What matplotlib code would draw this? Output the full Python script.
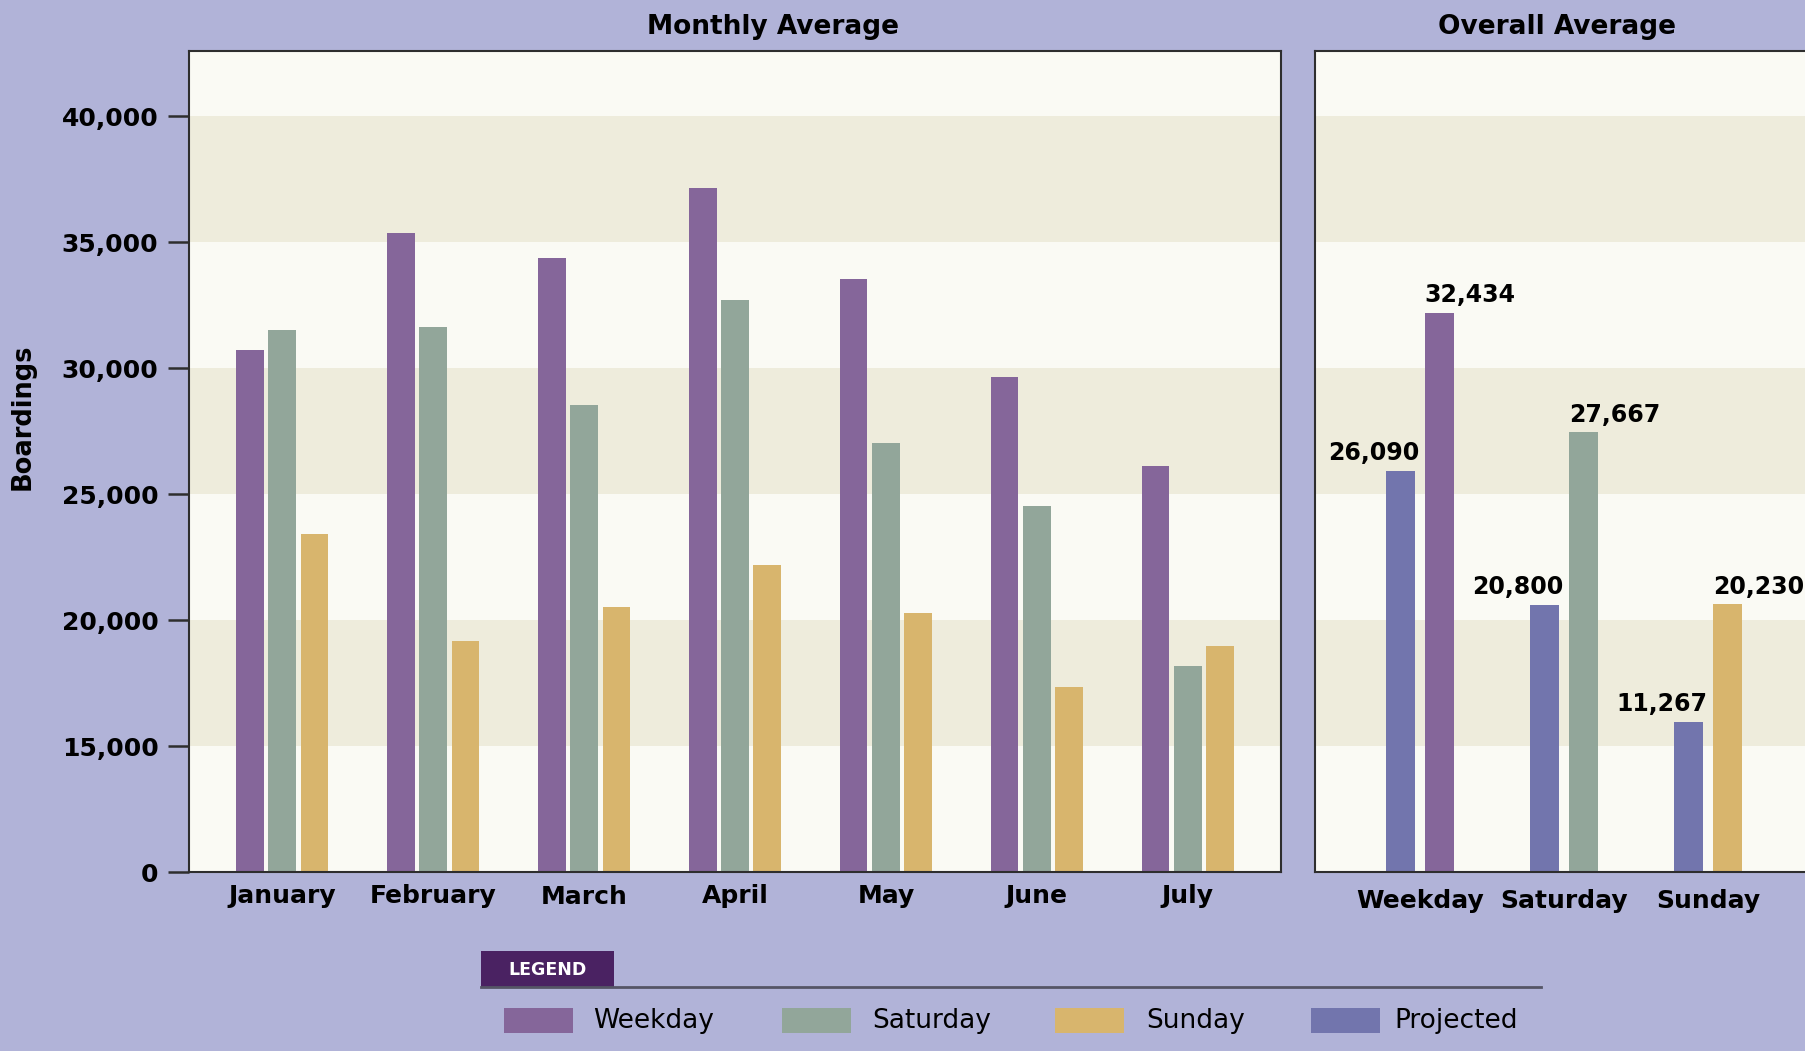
import matplotlib.pyplot as plt
from matplotlib.patches import Rectangle
from matplotlib.lines import Line2D
import numpy as np

# monthly averages
months = ["January", "February", "March", "April", "May", "June", "July"]
weekday = [30700, 35370, 34350, 37130, 33520, 29650, 26110]
saturday = [31510, 31640, 28530, 32700, 27010, 24520, 18190]
sunday = [23400, 19180, 20530, 22180, 20270, 17350, 18970]

# overall averages
overall_cats = ["Weekday", "Saturday", "Sunday"]
projected = [25920, 20600, 15970]
actual = [32190, 27450, 20620]
projected_labels = ["26,090", "20,800", "11,267"]
actual_labels = ["32,434", "27,667", "20,230"]

# the axis is cut: the bottom tick is labelled 0
ytick_values = [10000, 15000, 20000, 25000, 30000, 35000, 40000]
ytick_labels = ["0", "15,000", "20,000", "25,000", "30,000", "35,000", "40,000"]
bands = [(15000, 20000), (25000, 30000), (35000, 40000)]

legend_names = ["Weekday", "Saturday", "Sunday", "Projected"]

c_week = "#85669a"
c_sat = "#92a69a"
c_sun = "#d8b56d"
c_proj = "#7275ad"
fig_bg = "#b1b3d8"
panel_bg = "#fafaf4"
band_bg = "#eeecdc"
spine_c = "#2e2e2e"

plt.rcParams["font.family"] = ["DejaVu Sans"]

W, H = 1806, 1051
fig = plt.figure(figsize=(W / 100, H / 100), dpi=100, facecolor=fig_bg)

y_lo, y_hi = 10000, 42580
bottom = (H - 872) / H
height = (872 - 51) / H

ax1 = fig.add_axes([189 / W, bottom, (1281 - 189) / W, height])
ax2 = fig.add_axes([1315 / W, bottom, (1813 - 1315) / W, height])

for ax in (ax1, ax2):
    ax.set_facecolor(panel_bg)
    ax.set_ylim(y_lo, y_hi)
    for lo, hi in bands:
        ax.axhspan(lo, hi, color=band_bg, lw=0, zorder=0)
    for s in ax.spines.values():
        s.set_color(spine_c)
        s.set_linewidth(1.5)

# monthly panel
x = np.arange(len(months))
step, bw = 0.214, 0.183
ax1.bar(x - step, weekday, bw, color=c_week, lw=0, zorder=2)
ax1.bar(x, saturday, bw, color=c_sat, lw=0, zorder=2)
ax1.bar(x + step, sunday, bw, color=c_sun, lw=0, zorder=2)
ax1.set_xlim(-0.618, 6.618)
ax1.set_xticks(x)
ax1.set_xticklabels(months, fontsize=18, fontweight="bold")
ax1.tick_params(axis="x", length=0, pad=9)
ax1.set_yticks(ytick_values)
ax1.set_yticklabels(ytick_labels, fontsize=18, fontweight="bold")
ax1.tick_params(axis="y", length=15, width=1.8, color=spine_c, pad=7)

# overall panel
x2 = np.arange(len(overall_cats))
step2, bw2 = 0.134, 0.2
ax2.bar(x2 - step2, projected, bw2, color=c_proj, lw=0, zorder=2)
ax2.bar(x2 + step2, actual, bw2, color=[c_week, c_sat, c_sun], lw=0, zorder=2)
ax2.set_xlim(-0.729, 2.73)
ax2.set_xticks(x2)
ax2.set_xticklabels(overall_cats, fontsize=18, fontweight="bold")
ax2.tick_params(axis="x", length=0, pad=12)
ax2.set_yticks([])
ax2.spines["right"].set_visible(False)

for xi, v, lab in zip(x2, projected, projected_labels):
    ax2.annotate(lab, (xi - step2 + bw2 / 2, v), xytext=(3, 4),
                 textcoords="offset points", ha="right", va="bottom",
                 fontsize=17, fontweight="bold")
for xi, v, lab in zip(x2, actual, actual_labels):
    ax2.annotate(lab, (xi + step2 - bw2 / 2, v), xytext=(0, 4),
                 textcoords="offset points", ha="left", va="bottom",
                 fontsize=17, fontweight="bold")

# titles and axis label
fig.text(773 / W, 1 - 27 / H, "Monthly Average", ha="center", va="center",
         fontsize=19, fontweight="bold")
fig.text(1557 / W, 1 - 27 / H, "Overall Average", ha="center", va="center",
         fontsize=19, fontweight="bold")
fig.text(23 / W, 1 - 417 / H, "Boardings", rotation=90, ha="center",
         va="center", fontsize=18.5, fontweight="bold")

# legend block
fig.add_artist(Line2D([481 / W, 1541 / W], [1 - 987 / H, 1 - 987 / H],
                      color="#555566", lw=2))
fig.add_artist(Rectangle((481 / W, 1 - 988 / H), (614 - 481) / W, 37 / H,
                         transform=fig.transFigure, color="#4a2262", lw=0))
fig.text(547 / W, 1 - 970 / H, "LEGEND", color="white", ha="center",
         va="center", fontsize=12.5, fontweight="bold")
patch_x = [504, 782, 1055, 1311]
text_x = [593, 872, 1146, 1394]
for px, tx, name, col in zip(patch_x, text_x, legend_names,
                             [c_week, c_sat, c_sun, c_proj]):
    fig.add_artist(Rectangle((px / W, 1 - 1033 / H), 69 / W, 25 / H,
                             transform=fig.transFigure, color=col, lw=0))
    fig.text(tx / W, 1 - 1021 / H, name, ha="left", va="center", fontsize=19)

fig.savefig("out.png", dpi=100, facecolor=fig_bg)
